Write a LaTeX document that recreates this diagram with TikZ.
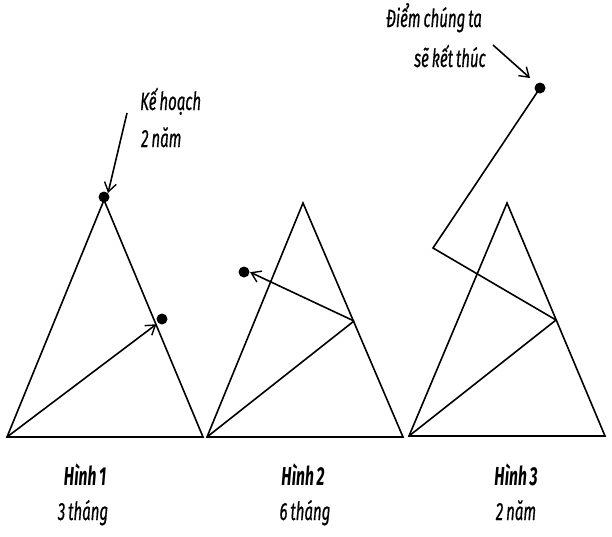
\documentclass[tikz,border=0pt]{standalone}
\usepackage{fontspec}
\setmainfont{Fira Sans}[FakeStretch=0.6, WordSpace=0.75, ItalicFeatures={FakeBold=0.6}]
\usetikzlibrary{arrows.meta}
\begin{document}
\begin{tikzpicture}[x=1pt,y=-1pt,
  edge/.style={line width=1.6pt, line join=miter},
  arr/.style={edge, -{Straight Barb[length=9pt,width=12pt,line width=1.4pt]}},
  dot/.style={circle, fill=black, inner sep=0pt, minimum size=11pt},
  note/.style={font=\itshape\fontsize{25}{28}\selectfont, inner sep=0pt},
  title/.style={font=\bfseries\itshape\fontsize{26}{28}\selectfont, inner sep=0pt, anchor=base},
  sub/.style={font=\itshape\fontsize{25}{28}\selectfont, inner sep=0pt, anchor=base}]
\useasboundingbox (0,0) rectangle (612,536);

% ---- Hinh 1 ----
\coordinate (a1) at (7,437);
\coordinate (b1) at (203,437);
\coordinate (c1) at (104,200);
\draw[edge] (a1) -- (b1) -- (c1) -- cycle;
\node[dot] (top1) at (104,197) {};
\node[dot] (mid1) at (162,319) {};
\draw[arr, shorten >=2pt] (a1) -- (mid1.south west);
\node[note, anchor=base west] (k1) at (140,110) {Kế hoạch};
\node[note, anchor=base west] (k2) at (141,147) {2 năm};
\coordinate (s1) at (127,113);
\draw[arr] (s1) -- (top1.north east);

% ---- Hinh 2 ----
\coordinate (a2) at (207,437);
\coordinate (b2) at (403,437);
\coordinate (c2) at (303,203);
\coordinate (m2) at (354,321);
\draw[edge] (a2) -- (b2) -- (c2) -- cycle;
\draw[edge] (a2) -- (m2);
\node[dot] (end2) at (244,272) {};
\draw[arr, shorten >=0.5pt] (m2) -- (end2.east);

% ---- Hinh 3 ----
\coordinate (a3) at (409,436);
\coordinate (b3) at (605,436);
\coordinate (c3) at (507,203);
\coordinate (m3) at (556,320);
\coordinate (t3) at (433,248);
\draw[edge] (a3) -- (b3) -- (c3) -- cycle;
\node[dot] (end3) at (540,88) {};
\draw[edge] (a3) -- (m3) -- (t3) -- (end3.center);
\node[note, anchor=base west] (d1) at (386,27) {Điểm chúng ta};
\node[note, anchor=base west] (d2) at (414,67) {sẽ kết thúc};
\coordinate (s3) at (493,45);
\coordinate (e3) at (530,78);
\draw[arr] (s3) -- (e3);

% ---- captions ----
\node[title] (h1) at (85,485) {Hình 1};
\node[sub]   (t1) at (83,520) {3 tháng};
\node[title] (h2) at (303,485) {Hình 2};
\node[sub]   (t2) at (305,520) {6 tháng};
\node[title] (h3) at (516,485) {Hình 3};
\node[sub]   (tt3) at (516,520) {2 năm};
\end{tikzpicture}
\end{document}
